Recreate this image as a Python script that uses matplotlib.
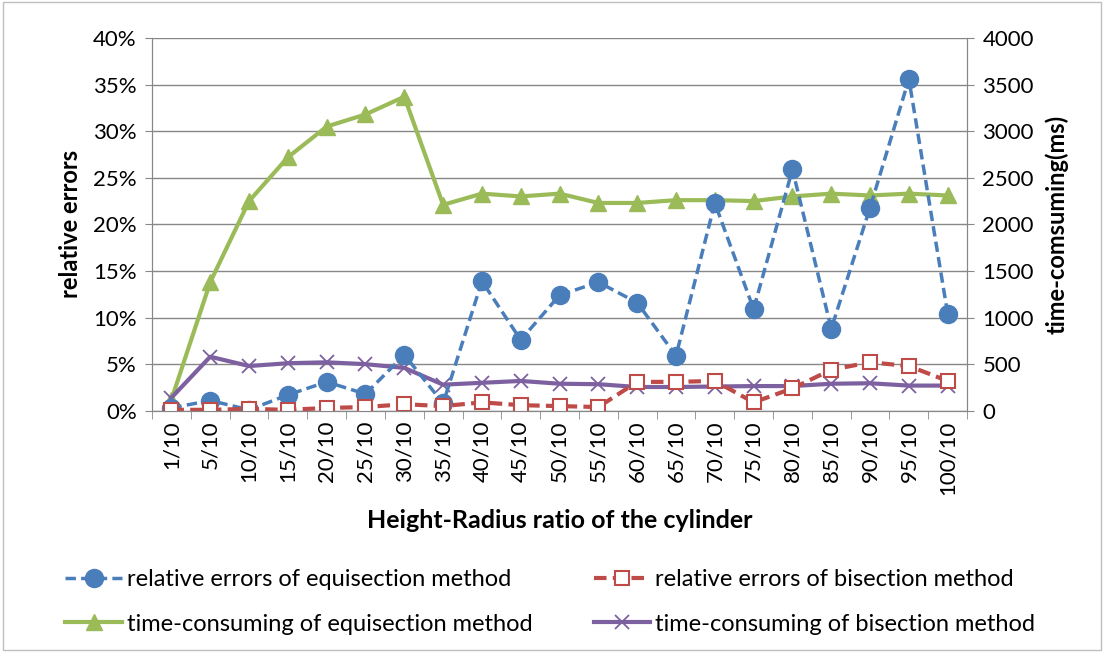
import matplotlib
matplotlib.use("Agg")
import matplotlib.pyplot as plt
from matplotlib.patches import Rectangle
import numpy as np

plt.rcParams['font.family'] = ['Lato', 'DejaVu Sans']

categories = ["1/10", "5/10", "10/10", "15/10", "20/10", "25/10", "30/10", "35/10", "40/10", "45/10",
              "50/10", "55/10", "60/10", "65/10", "70/10", "75/10", "80/10", "85/10", "90/10", "95/10", "100/10"]
err_equi = [0.3, 1.1, 0.1, 1.7, 3.1, 1.8, 6.0, 0.8, 13.9, 7.6, 12.4, 13.8, 11.6, 5.9, 22.3, 10.9, 25.9, 8.8, 21.8, 35.6, 10.4]
err_bi = [0.1, 0.1, 0.2, 0.1, 0.3, 0.4, 0.7, 0.5, 0.9, 0.6, 0.5, 0.4, 3.1, 3.1, 3.2, 0.9, 2.4, 4.4, 5.2, 4.8, 3.2]
time_equi = [120, 1380, 2250, 2720, 3050, 3180, 3370, 2210, 2330, 2300, 2330, 2230, 2230, 2260, 2260, 2250, 2300, 2330, 2310, 2330, 2310]
time_bi = [140, 580, 480, 510, 520, 500, 460, 280, 300, 320, 290, 285, 255, 255, 260, 265, 265, 290, 295, 270, 270]

blue = '#4A7EBB'
red = '#BE4B48'
green = '#9BBB59'
purple = '#7D60A0'
gridc = '#878787'

fig = plt.figure(figsize=(11.04, 6.52), dpi=100)
fig.patches.append(Rectangle((0.003, 0.003), 0.994, 0.994, transform=fig.transFigure,
                             fill=False, edgecolor='#BFBFBF', linewidth=1))
ax = fig.add_axes([0.1377, 0.370, 0.7383, 0.5717])
ax2 = ax.twinx()

x = np.arange(len(categories))
l1, = ax.plot(x, err_equi, color=blue, linestyle=(0, (3, 1.5)), linewidth=2.5, marker='o', markersize=13,
              markerfacecolor=blue, markeredgecolor=blue, label='relative errors of equisection method')
l2, = ax.plot(x, err_bi, color=red, linestyle=(0, (3, 1.5)), linewidth=3, marker='s', markersize=10,
              markerfacecolor='white', markeredgecolor=red, markeredgewidth=1.5,
              label='relative errors of bisection method')
l3, = ax2.plot(x, time_equi, color=green, linewidth=3, marker='^', markersize=11,
               markerfacecolor=green, markeredgecolor=green, label='time-consuming of equisection method')
l4, = ax2.plot(x, time_bi, color=purple, linewidth=3, marker='x', markersize=10, markeredgewidth=1.3,
               label='time-consuming of bisection method')

ax.set_zorder(2)
ax.patch.set_visible(False)
ax2.set_zorder(1)

ax.set_xlim(-0.5, len(categories) - 0.5)
ax.set_ylim(0, 40)
ax.set_yticks(np.arange(0, 41, 5))
ax.set_yticklabels([f"{v}%" for v in range(0, 41, 5)])
ax2.set_ylim(0, 4000)
ax2.set_yticks(np.arange(0, 4001, 500))

ax.set_xticks(x)
ax.set_xticklabels(categories, rotation=90)
ax.set_xticks(np.arange(-0.5, len(categories), 1), minor=True)
ax.tick_params(axis='x', which='major', length=0, labelsize=16, pad=7)
ax.tick_params(axis='x', which='minor', length=6, color=gridc, direction='out')
ax.tick_params(axis='y', labelsize=16, length=5, color=gridc, pad=6)
ax2.tick_params(axis='y', labelsize=16, length=5, color=gridc, pad=6)

ax2.yaxis.grid(True, color=gridc, linewidth=1)
ax2.set_axisbelow(True)
for a in (ax, ax2):
    for s in a.spines.values():
        s.set_color(gridc)
    a.spines['top'].set_visible(False)

ax.set_ylabel('relative errors', fontsize=17, fontweight='bold', labelpad=8)
ax2.set_ylabel('time-comsuming(ms)', fontsize=17, fontweight='bold', labelpad=8)
ax.set_xlabel('Height-Radius ratio of the cylinder', fontsize=18, fontweight='bold', labelpad=10)

fig.legend(handles=[l1, l3, l2, l4], loc='lower left', bbox_to_anchor=(0.04, -0.006), ncol=2,
           frameon=False, fontsize=17, handlelength=2.4, columnspacing=2.6, labelspacing=1.0,
           handletextpad=0.2)

fig.savefig('out.png', dpi=100)
